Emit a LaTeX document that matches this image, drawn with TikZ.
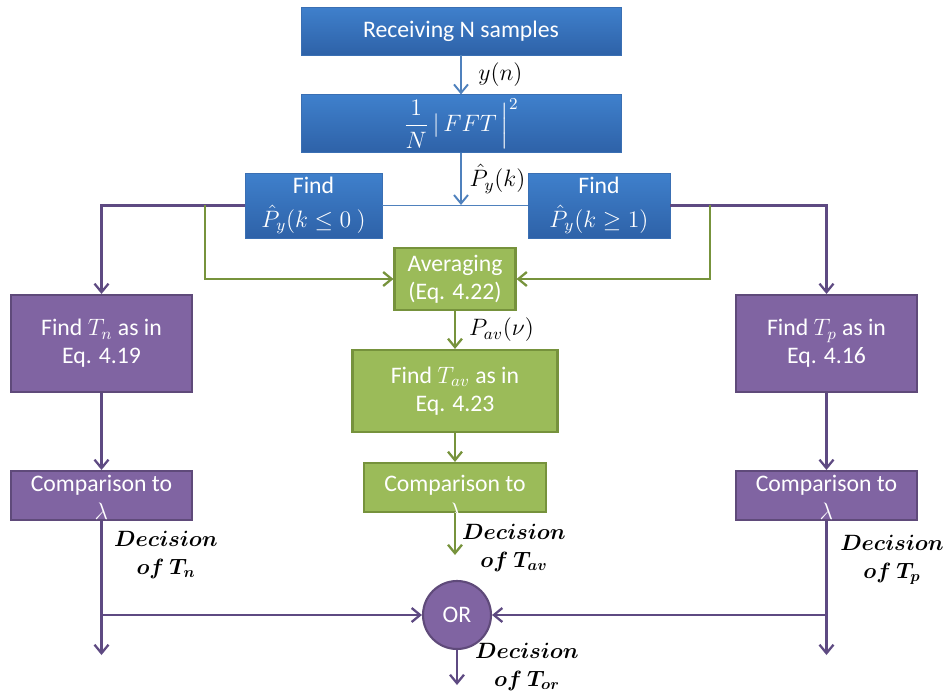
\RequirePackage{fix-cm}
\documentclass[tikz,border=0pt]{standalone}
\usepackage{amsmath}
\usepackage{bm}
\usepackage[no-math]{fontspec}
\setmainfont{Carlito}
\usetikzlibrary{arrows.meta}

\definecolor{bluetop}{HTML}{3F80CC}
\definecolor{bluebot}{HTML}{2E62A8}
\definecolor{blueedge}{HTML}{3A6FB3}
\definecolor{blueline}{HTML}{4F81BD}
\definecolor{purplefill}{HTML}{8064A2}
\definecolor{purpleedge}{HTML}{5F4A7A}
\definecolor{purpleline}{HTML}{5E4A82}
\definecolor{greenfill}{HTML}{9BBB59}
\definecolor{greenedge}{HTML}{76923C}
\definecolor{greenline}{HTML}{77933C}

\tikzset{
  bluebox/.style={draw=blueedge, line width=0.4pt, top color=bluetop, bottom color=bluebot, text=white, align=center, inner sep=2pt},
  purplebox/.style={draw=purpleedge, line width=1.2pt, fill=purplefill, text=white, align=center, inner sep=2pt},
  greenbox/.style={draw=greenedge, line width=1.2pt, fill=greenfill, text=white, align=center, inner sep=2pt},
  boxtext/.style={text=white, align=center, inner sep=0pt},
  orcircle/.style={circle, draw=purpleedge, line width=1.2pt, fill=purplefill, text=white, minimum size=1.36cm, inner sep=0pt},
  decision/.style={align=center, inner sep=0pt, font=\fontsize{12.6}{16}\selectfont},
  bluewire/.style={draw=blueline, line width=1.1pt},
  purplewire/.style={draw=purpleline, line width=1.3pt},
  greenwire/.style={draw=greenline, line width=1.3pt},
}

\begin{document}
\begin{tikzpicture}[x=0.02cm, y=-0.02cm, font=\fontsize{13.5}{16}\selectfont,
  >={Straight Barb[length=1.7mm,width=2.8mm]}]
  \useasboundingbox (0,0) rectangle (948,697);

  % Spectrum estimate
  \node[bluebox, minimum width=6.4cm, minimum height=0.96cm] (recv) at (461,31) {Receiving N samples};
  \node[bluebox, minimum width=6.4cm, minimum height=1.14cm] (fft) at (461,123.5) {$\dfrac{1}{N}\,|\,FFT\,\Big|^{2}$};
  \node[bluebox, minimum width=2.74cm, minimum height=1.3cm] (findl) at (313.5,205.5) {Find\\[3pt]$\hat{P}_y(k \leq 0\ )$};
  \node[bluebox, minimum width=2.84cm, minimum height=1.3cm] (findr) at (599,205.5) {Find\\[3pt]$\hat{P}_y(k \geq 1)$};

  % Averaging branch
  \node[greenbox, minimum width=2.42cm, minimum height=1.24cm] (avg) at (455,279) {Averaging\\(Eq. 4.22)};
  \node[greenbox, minimum width=4.1cm, minimum height=1.64cm] (tav) at (455,391) {Find $T_{av}$ as in\\Eq. 4.23};
  \node[greenbox, minimum width=3.64cm, minimum height=0.98cm] (cmpav) at (455,487.5) {};
  \node[boxtext] (cmpavtxt) at (455,497) {Comparison to\\$\lambda$};

  % Negative and positive branches
  \node[purplebox, minimum width=3.62cm, minimum height=1.94cm] (tn) at (101.5,343.5) {Find $T_n$ as in\\Eq. 4.19};
  \node[purplebox, minimum width=3.62cm, minimum height=0.98cm] (cmpn) at (101.5,495.5) {};
  \node[boxtext] (cmpntxt) at (101.5,497) {Comparison to\\$\lambda$};
  \node[purplebox, minimum width=3.62cm, minimum height=1.94cm] (tp) at (826.5,343.5) {Find $T_p$ as in\\Eq. 4.16};
  \node[purplebox, minimum width=3.62cm, minimum height=0.98cm] (cmpp) at (826.5,495.5) {};
  \node[boxtext] (cmpptxt) at (826.5,497) {Comparison to\\$\lambda$};

  \node[orcircle] (or) at (457,615) {OR};

  % Decisions
  \node[decision] (decn) at (166,555) {$\bm{Decision}$\\$\bm{of\ T_n}$};
  \node[decision] (decav) at (514,548) {$\bm{Decision}$\\$\bm{of\ T_{av}}$};
  \node[decision] (decp) at (892,560) {$\bm{Decision}$\\$\bm{of\ T_p}$};
  \node[decision] (decor) at (527,667) {$\bm{Decision}$\\$\bm{of\ T_{or}}$};

  % Connectors
  \coordinate (split) at (461,205);
  \coordinate (gl) at (205,205);
  \coordinate (gr) at (710,205);
  \coordinate (dav) at (455,555);
  \coordinate (dn) at (101.5,655);
  \coordinate (dp) at (826.5,655);
  \coordinate (dor) at (457,685);

  \draw[bluewire, ->] (recv) -- (fft) node[midway, right=6pt] (yn) {$y(n)$};
  \draw[bluewire, ->] (fft) -- (split) node[pos=0.5, right=1pt] (pyk) {$\hat{P}_y(k)$};
  \draw[bluewire] (findl.east) -- (findr.west);

  \draw[purplewire, ->] (findl.west) -| (tn.north);
  \draw[purplewire, ->] (findr.east) -| (tp.north);
  \draw[greenwire, ->] (gl) |- (avg.west);
  \draw[greenwire, ->] (gr) |- (avg.east);

  \draw[greenwire, ->] (avg) -- (tav) node[midway, right=4pt] (pav) {$P_{av}(\nu)$};
  \draw[greenwire, ->] (tav) -- (cmpav);
  \draw[greenwire, ->] (cmpav) -- (dav);

  \draw[purplewire, ->] (tn) -- (cmpn);
  \draw[purplewire, ->] (tp) -- (cmpp);
  \draw[purplewire, ->] (cmpn) -- (dn);
  \draw[purplewire, ->] (cmpp) -- (dp);
  \draw[purplewire, ->] (cmpn.south |- or.west) -- (or.west);
  \draw[purplewire, ->] (cmpp.south |- or.east) -- (or.east);
  \draw[purplewire, ->] (or) -- (dor);
\end{tikzpicture}
\end{document}
